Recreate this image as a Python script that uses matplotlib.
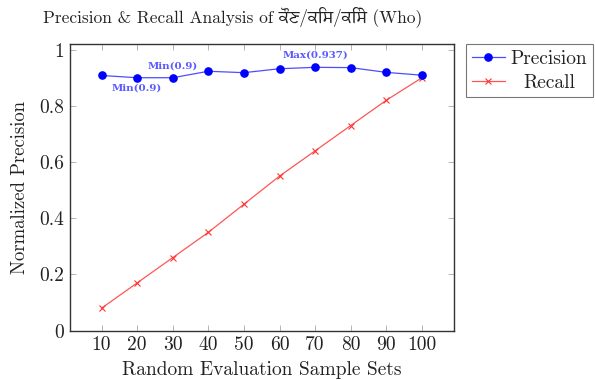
import matplotlib
matplotlib.use("Agg")
import matplotlib.pyplot as plt
from matplotlib import font_manager

plt.rcParams['axes.formatter.use_mathtext'] = True
plt.rcParams['mathtext.fontset'] = 'cm'

sample_sets = [10, 20, 30, 40, 50, 60, 70, 80, 90, 100]
precision = [0.908, 0.90, 0.90, 0.923, 0.918, 0.932, 0.937, 0.936, 0.919, 0.909]
recall = [0.08, 0.17, 0.26, 0.35, 0.45, 0.55, 0.64, 0.73, 0.82, 0.90]
y_ticks = [0, 0.2, 0.4, 0.6, 0.8, 1]
y_tick_labels = ["0", "0.2", "0.4", "0.6", "0.8", "1"]

title_text = "Precision & Recall Analysis of ਕੌਣ/ਕਿਸ/ਕਿਸੇ (Who)"

avail = {f.name for f in font_manager.fontManager.ttflist}
gur = [n for n in avail if 'Gurmukhi' in n]
title_fam = ['cmr10'] + gur + ['Noto Sans', 'DejaVu Sans']

serif = 'cmr10'
FS = 14
TXT = '#222222'

fig = plt.figure(figsize=(5.95, 3.8), dpi=100)
ax = fig.add_axes([69.5/595, 1-330.7/380, (454-69.5)/595, (330.7-44)/380])

ax.plot(sample_sets, precision, color='#4d4dff', lw=0.9, marker='o',
        markersize=5.2, markerfacecolor='blue', markeredgecolor='blue',
        label='Precision', zorder=3)
ax.plot(sample_sets, recall, color='#ff5555', lw=0.9, marker='x',
        markersize=4.2, markeredgewidth=0.8, markeredgecolor='#ff3333',
        label='Recall', zorder=2)

ax.set_xlim(1, 109)
ax.set_ylim(0, 1.02)
ax.set_xticks(sample_sets)
ax.set_xticklabels([str(v) for v in sample_sets], family=serif, fontsize=FS)
ax.set_yticks(y_ticks)
ax.set_yticklabels(y_tick_labels, family=serif, fontsize=FS)
ax.tick_params(direction='in', length=4, width=0.6, color='#aaaaaa',
               labelcolor=TXT, top=True, right=True, pad=4)
for s in ax.spines.values():
    s.set_color('#333333')
    s.set_linewidth(1.0)

ax.set_xlabel("Random Evaluation Sample Sets", family=serif, fontsize=FS,
              labelpad=5, color=TXT)
ax.set_ylabel("Normalized Precision", family=serif, fontsize=13.5,
              labelpad=7, color=TXT)

fig.text(233/595, 1-17/380, title_text, family=title_fam, fontsize=12.5,
         ha='center', va='center', color=TXT)

# annotations
ann_color = '#5a5aff'
i20 = sample_sets.index(20)
i30 = sample_sets.index(30)
imax = precision.index(max(precision))
ann_kw = dict(textcoords='offset points', ha='center', va='center',
              family='DejaVu Serif', fontweight='bold', fontsize=7.4, color=ann_color)
ax.annotate("Min(0.9)", (sample_sets[i20], precision[i20]), xytext=(0, -7.5), **ann_kw)
ax.annotate("Min(0.9)", (sample_sets[i30], precision[i30]), xytext=(0, 8.5), **ann_kw)
ax.annotate("Max(0.937)", (sample_sets[imax], precision[imax]), xytext=(0, 8.5), **ann_kw)

leg = fig.legend(loc='upper left', bbox_to_anchor=(466/595, 1-44/380),
                 prop={'family': serif, 'size': FS}, frameon=True, fancybox=False,
                 borderpad=0.3, handlelength=1.7, labelspacing=0.3,
                 handletextpad=0.3, borderaxespad=0)
leg.get_frame().set_edgecolor('#555555')
leg.get_frame().set_linewidth(0.8)
for t in leg.get_texts():
    t.set_color(TXT)

# center legend texts (as in the reference)
fig.canvas.draw()
r = fig.canvas.get_renderer()
texts = leg.get_texts()
widths = [t.get_window_extent(r).width for t in texts]
wmax = max(widths)
for t, w in zip(texts, widths):
    t.set_x((wmax - w) / 2)

fig.savefig('out.png', dpi=100)
